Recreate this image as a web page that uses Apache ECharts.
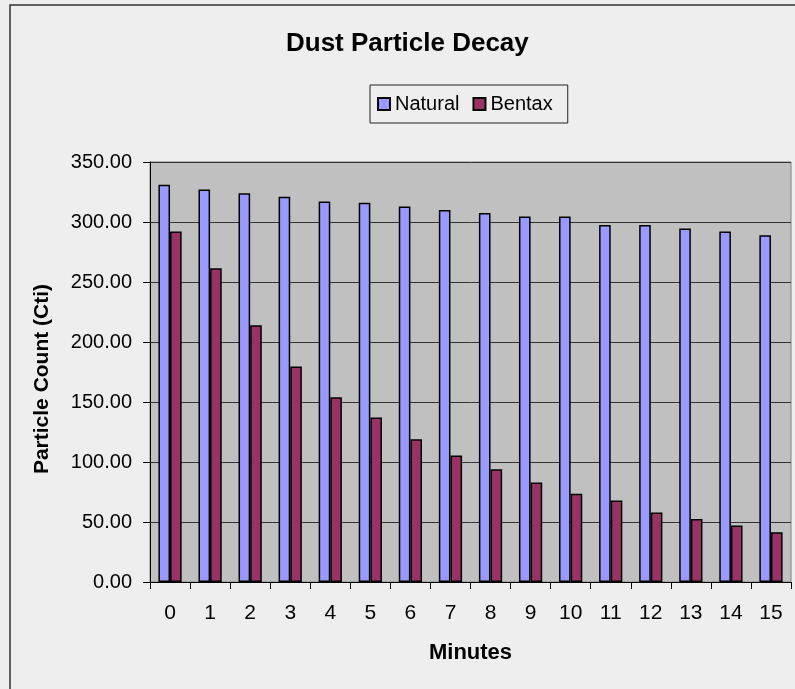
<!DOCTYPE html>
<html>
<head>
<meta charset="utf-8">
<title>Dust Particle Decay</title>
<script src="https://cdn.jsdelivr.net/npm/echarts@6/dist/echarts.min.js"></script>
<style>
  html, body { margin: 0; padding: 0; background: #eeeeee; }
  #chart { width: 795px; height: 689px; }
</style>
</head>
<body>
<div id="chart"></div>
<script>
// minutes on the x axis
const minutes = ["0", "1", "2", "3", "4", "5", "6", "7", "8", "9", "10", "11", "12", "13", "14", "15"];
// particle counts
const natural = [331, 327, 324, 321, 317, 316, 313, 310, 307.5, 304.5, 304.5, 297.5, 297.5, 294.5, 292, 289];
const bentax = [292, 261.5, 214, 179.5, 154, 137, 119, 105.5, 94, 83, 73.5, 68, 58, 52.5, 47, 41.5];

const font = "'Liberation Sans', Arial, sans-serif";

const chart = echarts.init(document.getElementById("chart"));
chart.setOption({
  backgroundColor: "#eeeeee",
  animation: false,
  textStyle: { fontFamily: font },
  title: {
    text: "Dust Particle Decay",
    left: 286,
    top: 31,
    padding: 0,
    textStyle: { fontFamily: font, fontSize: 26, fontWeight: "bold", color: "#000" },
  },
  graphic: [
    {
      // outer chart border, only top and left visible
      type: "rect",
      shape: { x: 10, y: 5, width: 1000, height: 1000 },
      style: { fill: null, stroke: "#333", lineWidth: 1.5 },
      silent: true,
    },
  ],
  legend: {
    data: ["Natural", "Bentax"],
    left: 370,
    top: 85,
    orient: "horizontal",
    padding: [9, 15, 9, 7],
    itemGap: 13,
    itemWidth: 12,
    itemHeight: 12,
    icon: "rect",
    borderColor: "#222",
    borderWidth: 1,
    textStyle: { fontFamily: font, fontSize: 20, color: "#000" },
  },
  grid: {
    left: 150,
    top: 162,
    right: 4,
    bottom: 107,
    show: true,
    backgroundColor: "#c0c0c0",
    borderColor: "#808080",
    borderWidth: 1,
  },
  xAxis: {
    type: "category",
    data: minutes,
    name: "Minutes",
    nameLocation: "middle",
    nameGap: 60,
    nameTextStyle: { fontFamily: font, fontSize: 22, fontWeight: "bold", color: "#000" },
    axisLine: { lineStyle: { color: "#000", width: 1 } },
    axisTick: { show: true, length: 7, lineStyle: { color: "#000" } },
    axisLabel: { margin: 21, fontFamily: font, fontSize: 21, color: "#000" },
    splitLine: { show: false },
  },
  yAxis: {
    type: "value",
    min: 0,
    max: 350,
    interval: 50,
    name: "Particle Count (Cti)",
    nameLocation: "middle",
    nameGap: 97,
    nameTextStyle: {
      fontFamily: font,
      fontSize: 21,
      fontWeight: "bold",
      color: "#000",
      padding: [0, 14, 0, 0], // nudges the rotated title a little lower
    },
    axisLine: { show: true, lineStyle: { color: "#000", width: 1 } },
    axisTick: { show: true, length: 7, lineStyle: { color: "#000" } },
    axisLabel: {
      margin: 18,
      fontFamily: font,
      fontSize: 20,
      color: "#000",
      formatter: (v) => v.toFixed(2),
    },
    splitLine: { show: true, lineStyle: { color: "#333", width: 1 } },
  },
  series: [
    {
      name: "Natural",
      type: "bar",
      data: natural,
      barWidth: "29%",
      barGap: "0%",
      itemStyle: { color: "#9999ff", borderColor: "#000", borderWidth: 1.5 },
    },
    {
      name: "Bentax",
      type: "bar",
      data: bentax,
      barWidth: "29%",
      itemStyle: { color: "#993366", borderColor: "#000", borderWidth: 1.5 },
    },
  ],
});
</script>
</body>
</html>
